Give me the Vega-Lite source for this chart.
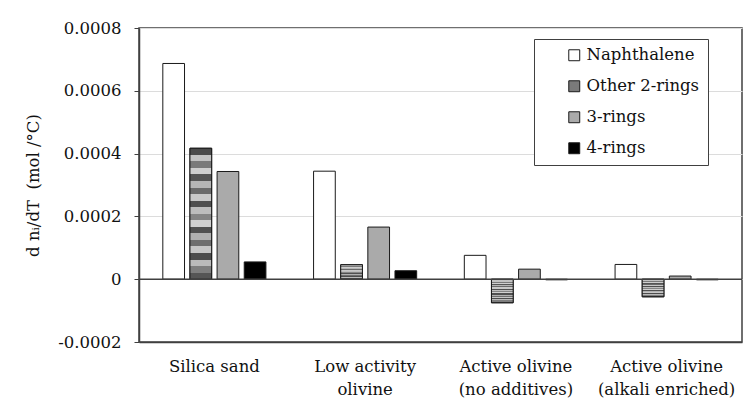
{
  "$schema": "https://vega.github.io/schema/vega-lite/v6.json",
  "width": 603,
  "height": 314,
  "autosize": {"type": "none"},
  "padding": {"left": 139, "top": 28, "right": 8, "bottom": 59},
  "background": "white",
  "config": {
    "font": "DejaVu Serif",
    "view": {"stroke": "#404040", "strokeWidth": 1.5}
  },
  "data": {
    "values": [
      {"material": "Silica sand", "series": "Naphthalene", "value": 0.000687},
      {"material": "Silica sand", "series": "Other 2-rings", "value": 0.000417},
      {"material": "Silica sand", "series": "3-rings", "value": 0.000343},
      {"material": "Silica sand", "series": "4-rings", "value": 0.000055},
      {"material": "Low activity|olivine", "series": "Naphthalene", "value": 0.000344},
      {"material": "Low activity|olivine", "series": "Other 2-rings", "value": 0.000046},
      {"material": "Low activity|olivine", "series": "3-rings", "value": 0.000166},
      {"material": "Low activity|olivine", "series": "4-rings", "value": 0.000027},
      {"material": "Active olivine|(no additives)", "series": "Naphthalene", "value": 0.000076},
      {"material": "Active olivine|(no additives)", "series": "Other 2-rings", "value": -0.000075},
      {"material": "Active olivine|(no additives)", "series": "3-rings", "value": 0.000032},
      {"material": "Active olivine|(no additives)", "series": "4-rings", "value": -0.000002},
      {"material": "Active olivine|(alkali enriched)", "series": "Naphthalene", "value": 0.000047},
      {"material": "Active olivine|(alkali enriched)", "series": "Other 2-rings", "value": -0.000056},
      {"material": "Active olivine|(alkali enriched)", "series": "3-rings", "value": 0.00001},
      {"material": "Active olivine|(alkali enriched)", "series": "4-rings", "value": -0.000002}
    ]
  },
  "layer": [
    {
      "mark": {"type": "bar", "stroke": "#1a1a1a", "strokeWidth": 1},
      "encoding": {
        "x": {
          "field": "material", "type": "nominal",
          "sort": ["Silica sand", "Low activity|olivine", "Active olivine|(no additives)", "Active olivine|(alkali enriched)"],
          "scale": {"paddingInner": 0.28, "paddingOuter": 0.14},
          "axis": {
            "title": null, "ticks": false, "labelAngle": 0,
            "labelExpr": "split(datum.label, '|')",
            "labelFont": "DejaVu Serif", "labelFontSize": 16.5, "labelColor": "#111111",
            "labelLineHeight": 23, "labelPadding": 16,
            "domainColor": "#404040", "domainWidth": 1.5
          }
        },
        "xOffset": {
          "field": "series", "type": "nominal",
          "scale": {"domain": ["Naphthalene", "Other 2-rings", "3-rings", "4-rings"], "paddingInner": 0.2, "paddingOuter": 0.1}
        },
        "y": {
          "field": "value", "type": "quantitative",
          "scale": {"domain": [-0.0002, 0.0008], "nice": false},
          "axis": {
            "values": [-0.0002, 0, 0.0002, 0.0004, 0.0006, 0.0008],
            "labelExpr": "'' + datum.value",
            "grid": true, "gridColor": "#dcdcdc", "gridWidth": 1,
            "tickSize": 5, "tickColor": "#404040",
            "domainColor": "#404040", "domainWidth": 1.5,
            "labelFont": "DejaVu Serif", "labelFontSize": 16.5, "labelColor": "#111111",
            "labelPadding": 13,
            "title": "d nᵢ/dT\u00a0\u00a0(mol /°C)",
            "titleFont": "DejaVu Serif", "titleFontSize": 16.5, "titleFontWeight": "normal",
            "titleColor": "#111111", "titlePadding": 16
          }
        },
        "fill": {
          "field": "series", "type": "nominal",
          "scale": {"domain": ["Naphthalene", "Other 2-rings", "3-rings", "4-rings"], "range": ["#ffffff", "#7a7a7a", "#aaaaaa", "#000000"]},
          "legend": {
            "title": null, "orient": "none", "legendX": 395, "legendY": 11,
            "strokeColor": "#404040", "fillColor": "white",
            "padding": 8, "rowPadding": 14,
            "symbolType": "square", "symbolSize": 120,
            "symbolStrokeColor": "#1a1a1a", "symbolStrokeWidth": 1,
            "symbolOffset": 24, "labelOffset": 4,
            "labelFont": "DejaVu Serif", "labelFontSize": 16.5, "labelColor": "#111111",
            "labelExpr": "datum.label + '        '", "labelLimit": 220
          }
        }
      }
    },
    {
      "transform": [{"filter": "datum.series === 'Other 2-rings'"}],
      "mark": {
        "type": "bar", "stroke": "#1a1a1a", "strokeWidth": 1,
        "fill": {
          "gradient": "linear", "x1": 0, "y1": 0, "x2": 0, "y2": 1,
          "stops": [
            {"offset": 0, "color": "#4a4a4a"}, {"offset": 0.05, "color": "#4a4a4a"},
            {"offset": 0.05, "color": "#c2c2c2"}, {"offset": 0.1, "color": "#c2c2c2"},
            {"offset": 0.1, "color": "#7a7a7a"}, {"offset": 0.15, "color": "#7a7a7a"},
            {"offset": 0.15, "color": "#cfcfcf"}, {"offset": 0.2, "color": "#cfcfcf"},
            {"offset": 0.2, "color": "#555555"}, {"offset": 0.25, "color": "#555555"},
            {"offset": 0.25, "color": "#b5b5b5"}, {"offset": 0.3, "color": "#b5b5b5"},
            {"offset": 0.3, "color": "#6a6a6a"}, {"offset": 0.35, "color": "#6a6a6a"},
            {"offset": 0.35, "color": "#c8c8c8"}, {"offset": 0.4, "color": "#c8c8c8"},
            {"offset": 0.4, "color": "#4f4f4f"}, {"offset": 0.45, "color": "#4f4f4f"},
            {"offset": 0.45, "color": "#bdbdbd"}, {"offset": 0.5, "color": "#bdbdbd"},
            {"offset": 0.5, "color": "#858585"}, {"offset": 0.55, "color": "#858585"},
            {"offset": 0.55, "color": "#d0d0d0"}, {"offset": 0.6, "color": "#d0d0d0"},
            {"offset": 0.6, "color": "#505050"}, {"offset": 0.65, "color": "#505050"},
            {"offset": 0.65, "color": "#b0b0b0"}, {"offset": 0.7, "color": "#b0b0b0"},
            {"offset": 0.7, "color": "#6e6e6e"}, {"offset": 0.75, "color": "#6e6e6e"},
            {"offset": 0.75, "color": "#c6c6c6"}, {"offset": 0.8, "color": "#c6c6c6"},
            {"offset": 0.8, "color": "#4c4c4c"}, {"offset": 0.85, "color": "#4c4c4c"},
            {"offset": 0.85, "color": "#bababa"}, {"offset": 0.9, "color": "#bababa"},
            {"offset": 0.9, "color": "#7e7e7e"}, {"offset": 0.95, "color": "#7e7e7e"},
            {"offset": 0.95, "color": "#555555"}, {"offset": 1, "color": "#555555"}
          ]
        }
      },
      "encoding": {
        "x": {
          "field": "material", "type": "nominal",
          "sort": ["Silica sand", "Low activity|olivine", "Active olivine|(no additives)", "Active olivine|(alkali enriched)"]
        },
        "xOffset": {
          "field": "series", "type": "nominal",
          "scale": {"domain": ["Naphthalene", "Other 2-rings", "3-rings", "4-rings"]}
        },
        "y": {"field": "value", "type": "quantitative"}
      }
    },
    {
      "data": {"values": [{"zero": 0}]},
      "mark": {"type": "rule", "color": "#404040", "strokeWidth": 1.5},
      "encoding": {"y": {"field": "zero", "type": "quantitative"}}
    }
  ]
}
